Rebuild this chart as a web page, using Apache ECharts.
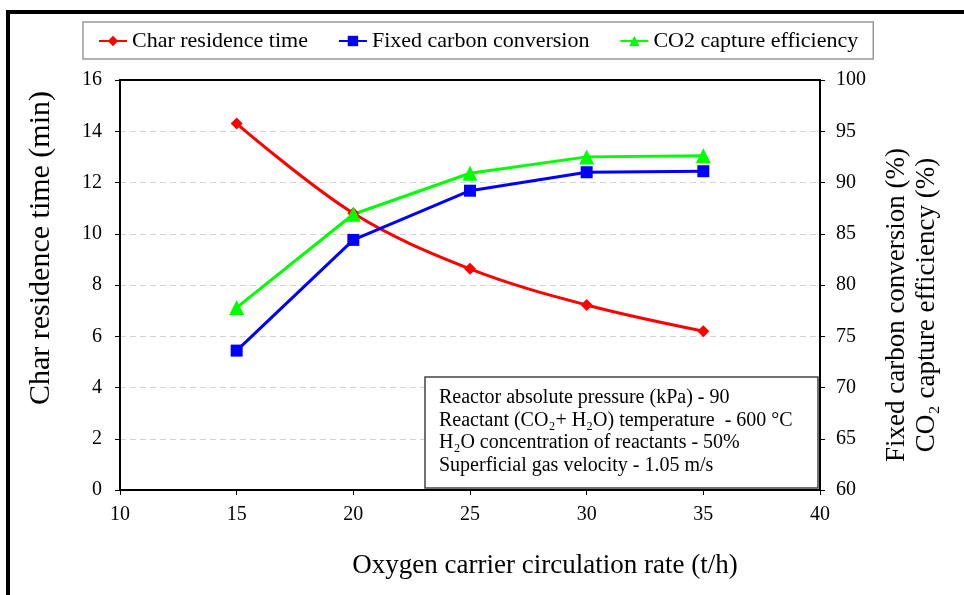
<!DOCTYPE html>
<html>
<head>
<meta charset="utf-8">
<script src="https://cdn.jsdelivr.net/npm/echarts@6/dist/echarts.min.js"></script>
<style>
  html, body { margin: 0; padding: 0; background: #fff; }
  #chart { width: 964px; height: 595px; }
</style>
</head>
<body>
<div id="chart"></div>
<script>
// circulation rate (t/h)
const rates = [15, 20, 25, 30, 35];
// values
const residenceTime = [14.3, 10.8, 8.63, 7.22, 6.2];
const carbonConversion = [73.6, 84.4, 89.2, 91.0, 91.1];
const captureEfficiency = [77.8, 86.9, 90.9, 92.5, 92.6];

const notes = [
  'Reactor absolute pressure (kPa) - 90',
  'Reactant (CO\u2082+ H\u2082O) temperature  - 600 \u00b0C',
  'H\u2082O concentration of reactants - 50%',
  'Superficial gas velocity - 1.05 m/s'
];

const serif = '"Liberation Serif", "DejaVu Serif", serif';
const chart = echarts.init(document.getElementById('chart'));

const pairs = (ys) => rates.map((x, i) => [x, ys[i]]);

const option = {
  backgroundColor: '#fff',
  animation: false,
  textStyle: { fontFamily: serif, color: '#000' },
  grid: {
    left: 120, right: 144, top: 80, bottom: 105,
    show: true, borderColor: '#000', borderWidth: 2
  },
  legend: {
    top: 22,
    left: 83,
    padding: [8, 15, 7, 15],
    itemGap: 30,
    itemWidth: 28,
    itemHeight: 13,
    borderColor: '#999',
    borderWidth: 1.5,
    textStyle: { fontFamily: serif, fontSize: 22, color: '#000' },
    data: ['Char residence time', 'Fixed carbon conversion', 'CO2 capture efficiency']
  },
  xAxis: {
    type: 'value',
    min: 10, max: 40, interval: 5,
    name: 'Oxygen carrier circulation rate (t/h)',
    nameLocation: 'middle',
    nameGap: 62,
    nameTextStyle: { fontFamily: serif, fontSize: 27, color: '#000', padding: [0, 0, 0, 150] },
    axisLine: { lineStyle: { color: '#000', width: 2 } },
    axisTick: { show: true, length: 5, lineStyle: { color: '#000' } },
    axisLabel: { fontFamily: serif, fontSize: 20, color: '#000', margin: 15 },
    splitLine: { show: false }
  },
  yAxis: [{
    type: 'value',
    min: 0, max: 16, interval: 2,
    name: 'Char residence time (min)',
    nameLocation: 'middle',
    nameRotate: 90,
    nameGap: 64,
    nameTextStyle: { fontFamily: serif, fontSize: 30, color: '#000', padding: [0, 0, 0, 74] },
    axisLine: { show: true, lineStyle: { color: '#000', width: 2 } },
    axisTick: { show: true, length: 5, lineStyle: { color: '#000' } },
    axisLabel: { fontFamily: serif, fontSize: 20, color: '#000', margin: 18 },
    splitLine: {
      show: true, showMinLine: false, showMaxLine: false,
      lineStyle: { color: '#d4d4d4', type: [6, 4] }
    }
  }, {
    type: 'value',
    position: 'right',
    min: 60, max: 100, interval: 5,
    name: 'Fixed carbon conversion (%)\nCO\u2082 capture efficiency (%)',
    nameLocation: 'middle',
    nameRotate: 90,
    nameGap: 62,
    nameTextStyle: { fontFamily: serif, fontSize: 27, color: '#000', lineHeight: 30, padding: [0, 40, 0, 0] },
    axisLine: { show: true, lineStyle: { color: '#000', width: 2 } },
    axisTick: { show: true, length: 5, lineStyle: { color: '#000' } },
    axisLabel: { fontFamily: serif, fontSize: 20, color: '#000', margin: 16 },
    splitLine: { show: false }
  }],
  series: [{
    name: 'Char residence time',
    type: 'line',
    yAxisIndex: 0,
    smooth: 0.35,
    data: pairs(residenceTime),
    symbol: 'diamond',
    symbolSize: 12,
    lineStyle: { color: '#ff0000', width: 3 },
    itemStyle: { color: '#ff0000' }
  }, {
    name: 'Fixed carbon conversion',
    type: 'line',
    yAxisIndex: 1,
    data: pairs(carbonConversion),
    symbol: 'rect',
    symbolSize: 12,
    lineStyle: { color: '#0000ff', width: 3 },
    itemStyle: { color: '#0000ff' }
  }, {
    name: 'CO2 capture efficiency',
    type: 'line',
    yAxisIndex: 1,
    data: pairs(captureEfficiency),
    symbol: 'triangle',
    symbolSize: 15,
    lineStyle: { color: '#00ff00', width: 3 },
    itemStyle: { color: '#00ff00' }
  }],
  graphic: [
    // outer frame, left and top edges
    { type: 'rect', shape: { x: 6, y: 10, width: 4, height: 600 }, style: { fill: '#000' } },
    { type: 'rect', shape: { x: 6, y: 10, width: 970, height: 4 }, style: { fill: '#000' } },
    { type: 'rect', z: 100, shape: { x: 425, y: 377, width: 393, height: 111 },
      style: { fill: '#fff', stroke: '#444', lineWidth: 1.5 } }
  ].concat(notes.map((t, i) => ({
    type: 'text',
    z: 101,
    x: 439, y: 398 + i * 22.5,
    style: { text: t, fontFamily: serif, fontSize: 20, fill: '#000', verticalAlign: 'middle' }
  })))
};

chart.setOption(option);
</script>
</body>
</html>
